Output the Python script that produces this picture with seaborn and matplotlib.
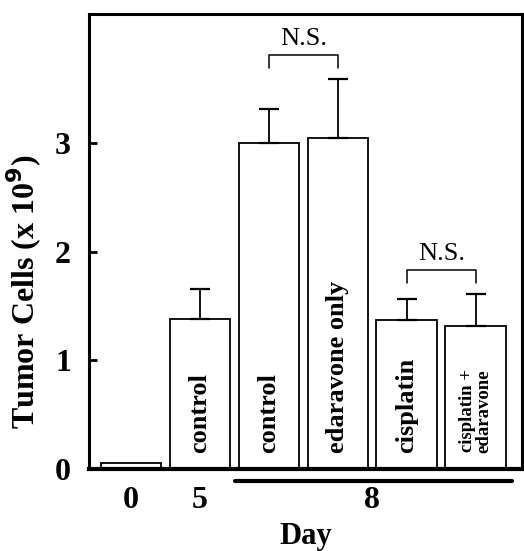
import numpy as np
import pandas as pd
import matplotlib
matplotlib.use("Agg")
import matplotlib.pyplot as plt
import matplotlib.transforms as mtransforms
import seaborn as sns

sns.set_theme(style="white")
plt.rcParams['font.family'] = ['Liberation Serif', 'DejaVu Serif']
plt.rcParams['text.color'] = 'black'
plt.rcParams['axes.labelcolor'] = 'black'
plt.rcParams['xtick.color'] = 'black'
plt.rcParams['ytick.color'] = 'black'

# data
groups = ["d0", "d5 control", "d8 control", "d8 edaravone only", "d8 cisplatin", "d8 cisplatin + edaravone"]
cells = [0.055, 1.38, 3.00, 3.05, 1.37, 1.32]
err_up = [0.0, 0.28, 0.31, 0.54, 0.19, 0.29]
bar_text = ["", "control", "control", "edaravone only", "cisplatin", "cisplatin +\nedaravone"]
day_ticks = [0, 1, 3.5]
day_labels = ["0", "5", "8"]
ns_pairs = [(2, 3), (4, 5)]
ns_heights = [3.69, 1.71]

df = pd.DataFrame({"group": groups, "cells": cells})

fig = plt.figure(figsize=(5.24, 5.51), dpi=100)
ax = fig.add_axes([0.170, 0.149, 0.826, 0.826])

sns.barplot(data=df, x="group", y="cells", order=groups, color="white",
            edgecolor="black", linewidth=1.3, width=0.88, ax=ax, errorbar=None)
for p in ax.patches:
    p.set_facecolor("white")

xpos = np.arange(len(groups))
ax.errorbar(xpos[1:], cells[1:], yerr=[np.zeros(len(groups) - 1), err_up[1:]],
            fmt="none", ecolor="black", elinewidth=1.3, capsize=7, capthick=1.6)

# labels inside bars
for i, t in enumerate(bar_text):
    if not t:
        continue
    fs = 13.5 if "\n" in t else 19
    ax.text(xpos[i], 0.15, t, rotation=90, ha="center", va="bottom",
            fontsize=fs, fontweight="bold", linespacing=0.95)

# N.S. brackets
for (a, b), h in zip(ns_pairs, ns_heights):
    top = h + 0.12
    ax.plot([a, a, b, b], [h, top, top, h], color="black", lw=1.1)
    ax.text((a + b) / 2, top + 0.05, "N.S.", ha="center", va="bottom", fontsize=19)

ax.set_xlim(-0.61, 5.67)
ax.set_ylim(0, 4.19)
ax.set_yticks([0, 1, 2, 3])
ax.set_yticklabels(["0", "1", "2", "3"], fontsize=23, fontweight="bold")
ax.tick_params(axis="y", direction="in", length=6, width=2, left=True, pad=13)
ax.set_xticks(day_ticks)
ax.set_xticklabels(day_labels, fontsize=23, fontweight="bold")
ax.tick_params(axis="x", length=0, pad=12)

# line under the day 8 groups
trans = mtransforms.blended_transform_factory(ax.transData, ax.transAxes)
ax.plot([1.51, 5.52], [-0.026, -0.026], color="black", lw=3, transform=trans, clip_on=False)

ax.set_xlabel("Day", fontsize=22, fontweight="bold", labelpad=5)
ax.set_ylabel("Tumor Cells (x 10$^{\\mathbf{9}}$)", fontsize=23, fontweight="bold")
ax.yaxis.set_label_coords(-0.105, 0.39)

for s in ["left", "top", "right"]:
    ax.spines[s].set_linewidth(2.2)
    ax.spines[s].set_color("black")
ax.spines["bottom"].set_linewidth(3)
ax.spines["bottom"].set_color("black")

fig.savefig("out.png", dpi=100)
